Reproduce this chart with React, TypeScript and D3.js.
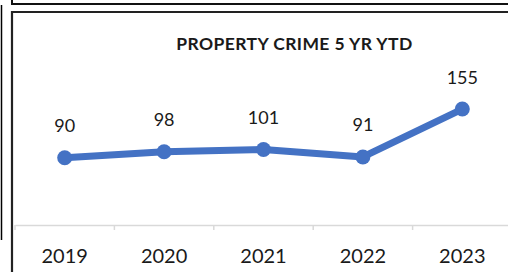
import React, { useRef, useEffect } from "react";
import * as d3 from "d3";

const years = ["2019", "2020", "2021", "2022", "2023"];
const crimes = [90, 98, 101, 91, 155];
const title = "PROPERTY CRIME 5 YR YTD";

const W = 508;
const H = 272;

const App = () => {
  const ref = useRef<SVGSVGElement | null>(null);

  useEffect(() => {
    if (!ref.current) return;
    const svg = d3.select(ref.current);
    svg.selectAll("*").remove();

    const axisY = 225;
    const x = d3.scaleBand().domain(years).range([15, 512]);
    const y = d3.scaleLinear().domain([0, 200]).range([axisY, axisY - 200 * 0.748]);
    const cx = (d: string) => (x(d) || 0) + x.bandwidth() / 2;

    // frames (the chart sits in a cropped sheet)
    svg
      .append("line")
      .attr("x1", 1.5).attr("x2", 1.5).attr("y1", 5).attr("y2", 240)
      .attr("stroke", "#000").attr("stroke-width", 1.5);
    svg
      .append("path")
      .attr("d", `M12,0 V4 H${W}`)
      .attr("fill", "none").attr("stroke", "#111").attr("stroke-width", 2);
    svg
      .append("path")
      .attr("d", `M12,${H} V12 H${W}`)
      .attr("fill", "none").attr("stroke", "#222").attr("stroke-width", 2.2);

    // title
    svg
      .append("text")
      .attr("x", 294.5)
      .attr("y", 49.5)
      .attr("text-anchor", "middle")
      .style("font-family", "Lato")
      .style("font-weight", "bold")
      .style("font-size", "17.5px")
      .style("letter-spacing", "0.4px")
      .style("fill", "#1a1a1a")
      .text(title);

    // x axis
    const ax = svg
      .append("g")
      .attr("transform", `translate(0,${axisY})`)
      .call(d3.axisBottom(x).tickSize(0).tickPadding(24));
    ax.select(".domain").attr("stroke", "#d9d9d9").attr("stroke-width", 1.5);
    ax.selectAll("text")
      .style("font-family", "Lato")
      .style("font-size", "20px")
      .style("fill", "#1a1a1a");

    svg
      .append("g")
      .selectAll("line")
      .data(years)
      .join("line")
      .attr("x1", (d) => x(d) || 0)
      .attr("x2", (d) => x(d) || 0)
      .attr("y1", axisY)
      .attr("y2", axisY + 5)
      .attr("stroke", "#d9d9d9")
      .attr("stroke-width", 1.5);

    // line
    const line = d3
      .line<number>()
      .x((_, i) => cx(years[i]))
      .y((d) => y(d));

    svg
      .append("path")
      .datum(crimes)
      .attr("fill", "none")
      .attr("stroke", "#4472C4")
      .attr("stroke-width", 7)
      .attr("stroke-linejoin", "round")
      .attr("d", line);

    svg
      .append("g")
      .selectAll("circle")
      .data(crimes)
      .join("circle")
      .attr("cx", (_, i) => cx(years[i]))
      .attr("cy", (d) => y(d))
      .attr("r", 7.5)
      .attr("fill", "#4472C4");

    // data labels
    svg
      .append("g")
      .selectAll("text")
      .data(crimes)
      .join("text")
      .attr("x", (_, i) => cx(years[i]))
      .attr("y", (d) => y(d) - 25.5)
      .attr("text-anchor", "middle")
      .style("font-family", "Lato")
      .style("font-size", "18px")
      .style("fill", "#1a1a1a")
      .text((d) => d.toString());
  }, []);

  return (
    <svg
      ref={ref}
      width={W}
      height={H}
      style={{ position: "absolute", left: 0, top: 0, background: "#fff" }}
    />
  );
};

export default App;
